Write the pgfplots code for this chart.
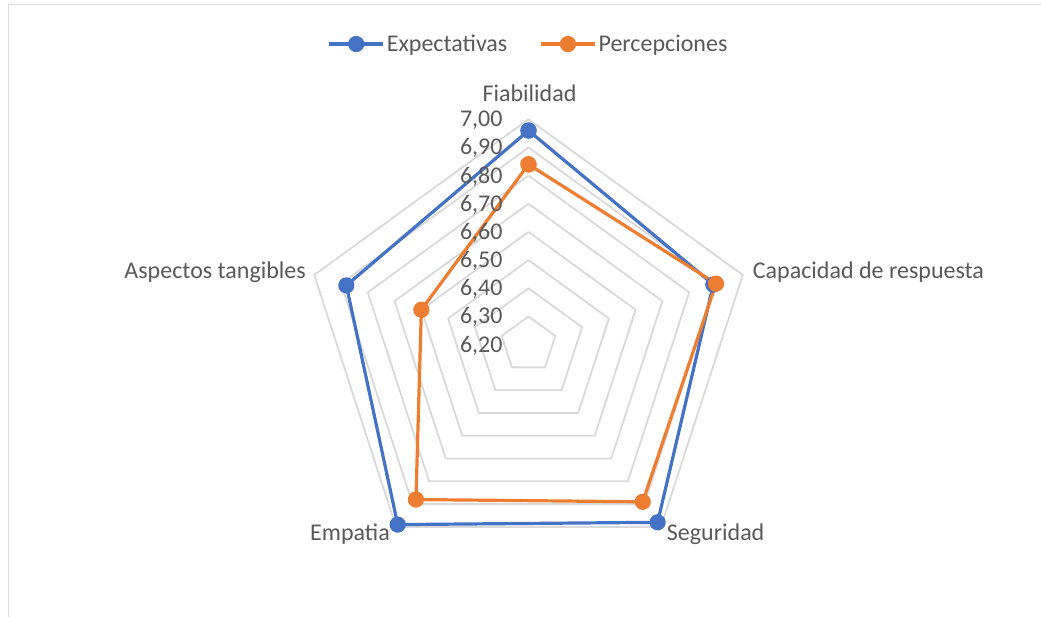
\documentclass[border=0pt]{standalone}
\usepackage{fontspec}
\setmainfont{Carlito}
\usepackage{pgfplots}
\usepackage{pgfplotstable}
\pgfplotsset{compat=1.18}
\usepgfplotslibrary{polar}

\definecolor{xlblue}{HTML}{4472C4}
\definecolor{xlorange}{HTML}{ED7D31}
\definecolor{xltext}{HTML}{595959}
\definecolor{xlgrid}{HTML}{D9D9D9}

% ang = spoke angle, exp / per = scores
\pgfplotstableread{
ang exp per
90 6.96 6.84
18 6.89 6.90
-54 6.98 6.89
-126 6.99 6.88
162 6.88 6.60
90 6.96 6.84
}\servqual

\tikzset{
  ring/.style={xlgrid, line width=1.8pt},
  lab/.style={font=\fontsize{24}{28}\selectfont, text=xltext, inner sep=0pt},
  ser/.style={line width=3.2pt, mark=*, mark size=6.5pt, mark options={solid}}
}

\begin{document}
\begin{tikzpicture}
\useasboundingbox (0,0) rectangle (1041pt,617pt);
\draw[xlgrid, line width=1pt] (8pt,0pt) -- (8pt,612pt) -- (1041pt,612pt);

\begin{polaraxis}[
  at={(528.5pt,272.4pt)}, anchor=center,
  scale only axis, width=450.6pt, height=450.6pt,
  ymin=0, ymax=0.8, hide axis, clip=false,
  legend columns=2,
  legend style={at={(0.5,1.167)}, anchor=center, draw=none, fill=none,
    font=\fontsize{24}{28}\selectfont, text=xltext,
    /tikz/every even column/.append style={column sep=30pt}},
  legend image code/.code={\draw[mark repeat=2, mark phase=2, #1] plot coordinates {(0pt,0pt) (27pt,0pt) (54pt,0pt)};}
]
\pgfplotsinvokeforeach{0.1,0.2,0.3,0.4,0.5,0.6,0.7,0.8}{
  \addplot[ring, forget plot] coordinates {(90,#1) (18,#1) (-54,#1) (-126,#1) (162,#1) (90,#1)};
}

\addplot[ser, xlblue] table[x=ang, y expr=\thisrow{exp}-6.2] {\servqual};
\addlegendentry{Expectativas}
\addplot[ser, xlorange] table[x=ang, y expr=\thisrow{per}-6.2] {\servqual};
\addlegendentry{Percepciones}

\node[lab, anchor=base east, xshift=-25.8pt, yshift=-7.5pt] at (axis cs:90,0.8) {7,00};
\node[lab, anchor=base east, xshift=-25.8pt, yshift=-7.5pt] at (axis cs:90,0.7) {6,90};
\node[lab, anchor=base east, xshift=-25.8pt, yshift=-7.5pt] at (axis cs:90,0.6) {6,80};
\node[lab, anchor=base east, xshift=-25.8pt, yshift=-7.5pt] at (axis cs:90,0.5) {6,70};
\node[lab, anchor=base east, xshift=-25.8pt, yshift=-7.5pt] at (axis cs:90,0.4) {6,60};
\node[lab, anchor=base east, xshift=-25.8pt, yshift=-7.5pt] at (axis cs:90,0.3) {6,50};
\node[lab, anchor=base east, xshift=-25.8pt, yshift=-7.5pt] at (axis cs:90,0.2) {6,40};
\node[lab, anchor=base east, xshift=-25.8pt, yshift=-7.5pt] at (axis cs:90,0.1) {6,30};
\node[lab, anchor=base east, xshift=-25.8pt, yshift=-7.5pt] at (axis cs:90,0.0) {6,20};
\end{polaraxis}

\node[lab, anchor=base] at (529.5pt,515pt) {Fiabilidad};
\node[lab, anchor=base west] at (752.7pt,338.7pt) {Capacidad de respuesta};
\node[lab, anchor=base west] at (666.7pt,76.3pt) {Seguridad};
\node[lab, anchor=base east] at (390pt,76.3pt) {Empatia};
\node[lab, anchor=base east] at (306pt,338.7pt) {Aspectos tangibles};
\end{tikzpicture}
\end{document}
